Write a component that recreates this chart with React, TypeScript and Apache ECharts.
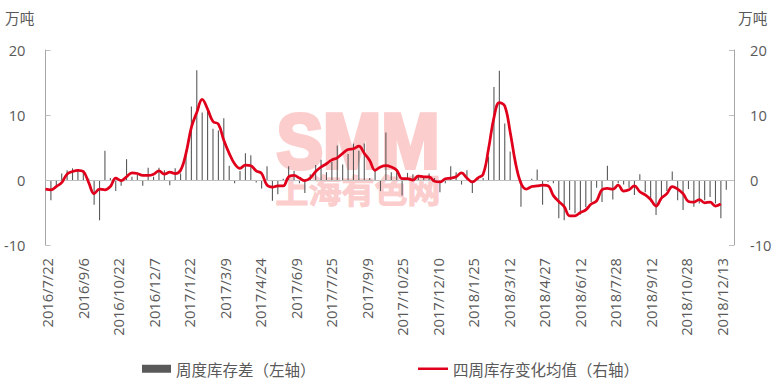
import React, { useEffect, useRef } from "react";
import * as echarts from "echarts";

// x-axis tick labels (every 46 days)
const xTickLabels = [
  "2016/7/22", "2016/9/6", "2016/10/22", "2016/12/7", "2017/1/22", "2017/3/9",
  "2017/4/24", "2017/6/9", "2017/7/25", "2017/9/9", "2017/10/25", "2017/12/10",
  "2018/1/25", "2018/3/12", "2018/4/27", "2018/6/12", "2018/7/28", "2018/9/12",
  "2018/10/28", "2018/12/13",
];

// weekly observations start on this date
const firstDate = "2016/7/20";
const axisStart = "2016/7/20";
const axisEnd = "2018/12/29";

// 周度库存差（左轴），万吨
const weeklyDiff = [
  0, -3.1, -0.8, 1.0, 1.5, 1.8, 1.5, 1.5, 0.2, -3.8,
  -6.2, 4.5, 0.3, -1.7, -0.9, 3.2, 0.5, 0.8, -0.9, 1.9,
  0.5, 1.9, 1.5, -0.8, 1.8, 1.0, 3.9, 11.3, 16.9, 10.4,
  10.9, 7.9, 7.6, 9.5, 2.2, -0.5, 1.4, 4.1, 3.8, -0.4,
  -1.3, 2.1, -3.2, -2.2, 0.2, 2.1, 1.4, -0.5, -2.0, 0.9,
  2.3, 3.1, 1.2, 2.8, 5.3, 2.4, 4.0, 5.6, 4.5, 5.6,
  0.3, 1.5, -1.7, 7.3, 1.2, 1.2, -2.4, 1.1, 0.9, 0.8,
  0.3, 1.0, 0.3, -1.9, -0.5, 2.1, 1.2, -0.7, 1.5, -2.0,
  0.2, 0.3, 3.6, 14.3, 16.8, 8.7, 4.4, 0, -4.1, 0,
  0.2, 1.6, -3.8, -0.3, -0.5, -5.9, -6.2, -4.6, -5.1, -5.3,
  -4.2, -3.4, -1.2, -3.4, 2.2, -3.0, -0.5, -0.7, -1.2, -2.3,
  0.9, -1.9, -3.3, -5.4, -3.1, -1.7, 1.3, -3.1, -4.6, -1.4,
  -4.1, -3.6, -3.1, -2.6, -3.6, -5.9, -1.5,
];

// 四周库存变化均值（右轴），万吨
const fourWeekAvg = [
  -1.4, -1.5, -1.0, -0.4, 0.9, 1.3, 1.5, 1.3, -0.4, -2.1,
  -1.4, -1.5, -1.0, 0.3, -0.1, 0.5, 1.1, 1.0, 0.7, 0.7,
  0.9, 1.4, 0.9, 1.2, 1.0, 1.5, 4.1, 8.1, 10.4, 12.4,
  10.9, 9.0, 8.6, 6.1, 4.1, 2.5, 1.8, 2.3, 2.2, 1.4,
  1.0, -0.8, -1.1, -0.9, -0.9, 0.5, 0.7, 0.3, -0.1, 0.3,
  1.3, 2.0, 2.5, 3.1, 3.4, 4.1, 4.7, 4.8, 5.2, 4.1,
  3.0, 1.5, 2.0, 2.2, 2.0, 1.5, 0.2, 0.2, 0.0, 0.6,
  0.5, 0.5, -0.2, -0.3, 0.2, 0.3, 0.5, 1.1, 0.3, -0.3,
  0.3, 0.9, 4.8, 9.6, 11.9, 11.4, 7.4, 2.6, -0.5, -1.4,
  -1.0, -0.9, -0.8, -0.9, -2.4, -3.3, -4.1, -5.5, -5.5, -5.0,
  -4.6, -3.7, -3.2, -1.5, -1.3, -1.4, -0.8, -1.7, -1.5, -0.9,
  -1.8, -2.3, -3.0, -4.0, -2.8, -2.1, -1.0, -1.4, -2.1, -3.3,
  -3.4, -3.0, -3.5, -3.4, -4.0, -3.7, null,
];

const yTicks = { min: -10, max: 20, interval: 10 };
const unitLabel = "万吨";
const barName = "周度库存差（左轴）";
const lineName = "四周库存变化均值（右轴）";

const DAY = 86400000;
const toUTC = (s: string) => {
  const [y, m, d] = s.split("/").map(Number);
  return Date.UTC(y, m - 1, d);
};
const origin = toUTC(xTickLabels[0]);
const dayOf = (s: string) => Math.round((toUTC(s) - origin) / DAY);

const FONT = "'Open Sans', 'Noto Sans CJK SC', sans-serif";
const CJK = "'Noto Sans CJK SC', sans-serif";
const TXT = "#595959";
const RED = "#E0001B";
const PINK = "#FCCDCD";

export default function App() {
  const ref = useRef<HTMLDivElement>(null);
  useEffect(() => {
    if (!ref.current) return;
    const chart = echarts.init(ref.current, undefined, { renderer: "svg" });
    const tickDays = xTickLabels.map(dayOf);
    const labelMap: Record<number, string> = {};
    tickDays.forEach((d, i) => (labelMap[d] = xTickLabels[i]));
    const start = dayOf(firstDate);
    const barData = weeklyDiff.map((v, i) => [start + 7 * i, v]);
    const lineData = fourWeekAvg.map((v, i) => [start + 7 * i, v]);

    const yAxisBase = {
      type: "value",
      min: yTicks.min,
      max: yTicks.max,
      interval: yTicks.interval,
      axisLine: { show: true, onZero: false, lineStyle: { color: "#A6A6A6", width: 1 } },
      axisTick: { show: true, inside: true, length: 5, lineStyle: { color: "#BFBFBF" } },
      splitLine: { show: false },
    };
    const legendText = { color: TXT, fontSize: 15.5, fontFamily: CJK };

    chart.setOption({
      animation: false,
      grid: { left: 45.5, right: 44, top: 50, height: 195, containLabel: false },
      legend: [
        {
          left: 137,
          top: 356,
          itemWidth: 29,
          itemHeight: 8,
          itemGap: 4,
          textStyle: legendText,
          data: [{ name: barName, icon: "rect" }],
        },
        {
          left: 413,
          top: 356,
          itemWidth: 30,
          itemHeight: 2.5,
          textStyle: legendText,
          data: [{ name: lineName, icon: "rect", itemStyle: { color: RED } }],
        },
      ],
      xAxis: {
        type: "value",
        min: dayOf(axisStart),
        max: dayOf(axisEnd),
        axisLine: { show: false },
        axisTick: { show: false },
        splitLine: { show: false },
        axisLabel: {
          customValues: tickDays,
          rotate: 90,
          margin: 13,
          color: TXT,
          fontSize: 14.67,
          fontFamily: FONT,
          formatter: (v: number) => labelMap[Math.round(v)] ?? "",
        },
      },
      yAxis: [
        {
          ...yAxisBase,
          position: "left",
          axisLabel: { margin: 20, color: TXT, fontSize: 14.67, fontFamily: FONT },
        },
        {
          ...yAxisBase,
          position: "right",
          axisLabel: { margin: 16, color: TXT, fontSize: 14.67, fontFamily: FONT },
        },
      ],
      graphic: [
        {
          type: "text",
          x: 358,
          y: 141,
          z: -10,
          scaleX: 0.92,
          scaleY: 1.02,
          silent: true,
          style: {
            text: "SMM",
            font: "bold 76px 'Liberation Sans', sans-serif",
            fill: PINK,
            stroke: PINK,
            lineWidth: 4,
            textAlign: "center",
            textVerticalAlign: "middle",
          },
        },
        {
          type: "text",
          x: 358,
          y: 189,
          z: -10,
          silent: true,
          style: {
            text: "上海有色网",
            font: "bold 33px 'Noto Sans CJK SC', sans-serif",
            fill: PINK,
            stroke: PINK,
            lineWidth: 1,
            textAlign: "center",
            textVerticalAlign: "middle",
          },
        },
        {
          type: "text",
          left: 5,
          top: 11,
          style: { text: unitLabel, font: `14.67px ${FONT}`, fill: TXT },
        },
        {
          type: "text",
          left: 738,
          top: 11,
          style: { text: unitLabel, font: `14.67px ${FONT}`, fill: TXT },
        },
      ],
      series: [
        {
          name: barName,
          type: "bar",
          yAxisIndex: 0,
          data: barData,
          barWidth: 1.1,
          itemStyle: { color: "#595959" },
          markLine: {
            silent: true,
            symbol: "none",
            label: { show: false },
            lineStyle: { color: "#BFBFBF", width: 1, type: "solid" },
            data: [{ yAxis: 0 }],
          },
        },
        {
          name: lineName,
          type: "line",
          yAxisIndex: 1,
          data: lineData,
          smooth: 0.4,
          symbol: "none",
          showSymbol: false,
          connectNulls: false,
          lineStyle: { color: RED, width: 2.75 },
          itemStyle: { color: RED },
          z: 5,
        },
      ],
    });
    return () => chart.dispose();
  }, []);
  return (
    <div
      ref={ref}
      style={{ position: "fixed", left: 0, top: 0, width: 778, height: 382, background: "#fff" }}
    />
  );
}
